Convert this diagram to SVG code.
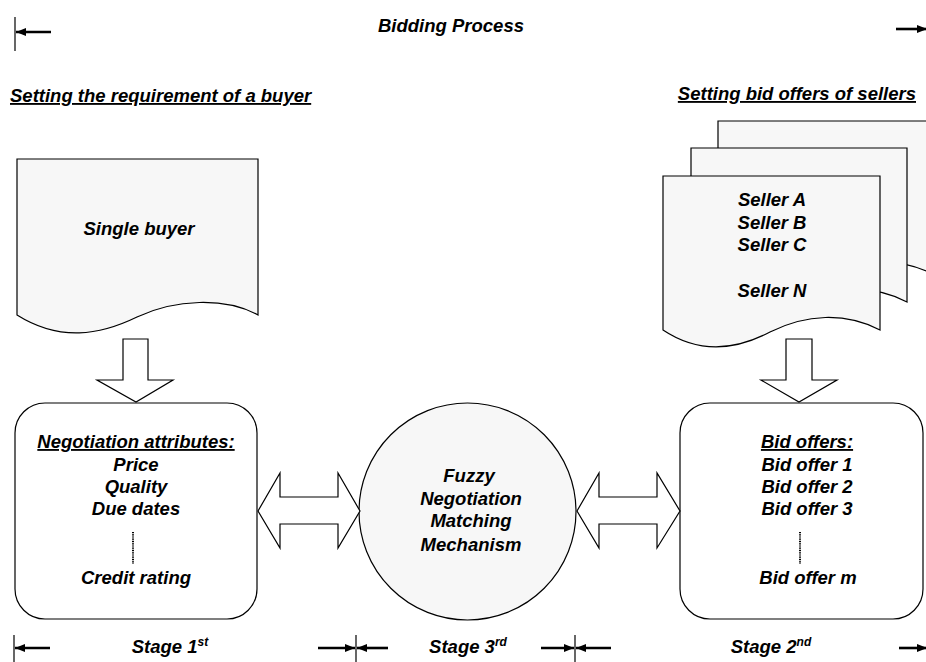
<svg xmlns="http://www.w3.org/2000/svg" width="926" height="662" viewBox="0 0 926 662">
<style>
text{font-family:"Liberation Sans",Arial,sans-serif;font-weight:bold;font-style:italic;font-size:18.5px;fill:#000}
.c{text-anchor:middle}
.u{text-decoration:underline}
.sup{font-size:12px}
.doc{fill:#f7f7f7;stroke:#000;stroke-width:1.2}
.box{fill:#fff;stroke:#000;stroke-width:1.2}
.blk{fill:#fff;stroke:#000;stroke-width:1.2;stroke-linejoin:miter}
.dim{stroke:#000;stroke-width:2.6;fill:none}
.tick{stroke:#000;stroke-width:1.2}
.dot{stroke:#000;stroke-width:2;stroke-dasharray:1 0.8}
</style>
<defs>
<marker id="ah" viewBox="0 0 10 8" refX="10" refY="4" markerWidth="10" markerHeight="8" markerUnits="userSpaceOnUse" orient="auto">
<path d="M0,0 L10,4 L0,8 Z" fill="#000"/>
</marker>
</defs>

<g id="title">
<text class="c" x="451" y="32">Bidding Process</text>
</g>
<g id="heading-buyer">
<text class="u" x="10" y="102">Setting the requirement of a buyer</text>
</g>
<g id="heading-sellers">
<text class="u" x="916" y="100" text-anchor="end">Setting bid offers of sellers</text>
</g>

<g id="single-buyer">
<path class="doc" d="M17,159 H258 V315 C225,297 175,299 137,317 C100,335 60,342 17,315 Z"/>
<text class="c" x="139" y="235">Single buyer</text>
</g>

<g id="sellers">
<path class="doc" d="M718,121 H935 V275 C900,257 861,259 825,277 C791,295 754,299 718,275 Z"/>
<path class="doc" d="M691,148 H907 V302 C872,284 833,286 798,304 C764,322 727,326 691,302 Z"/>
<path class="doc" d="M663,176 H880 V330 C845,312 806,314 770,332 C736,350 699,354 663,330 Z"/>
<text class="c" x="772" y="206">Seller A</text>
<text class="c" x="772" y="229">Seller B</text>
<text class="c" x="772" y="251">Seller C</text>
<text class="c" x="772" y="297">Seller N</text>
</g>

<g id="negotiation-attributes">
<rect class="box" x="15" y="403" width="242" height="216" rx="30" ry="30"/>
<text class="c u" x="136" y="448">Negotiation attributes:</text>
<text class="c" x="136" y="471">Price</text>
<text class="c" x="136" y="493">Quality</text>
<text class="c" x="136" y="515">Due dates</text>
<line class="dot" x1="133" y1="532" x2="133" y2="564"/>
<text class="c" x="136" y="584">Credit rating</text>
</g>

<g id="fuzzy-mechanism">
<circle class="doc" cx="467.5" cy="511.5" r="108.5"/>
<text class="c" x="469" y="482">Fuzzy</text>
<text class="c" x="471" y="505">Negotiation</text>
<text class="c" x="471" y="527">Matching</text>
<text class="c" x="471" y="551">Mechanism</text>
</g>

<g id="bid-offers">
<rect class="box" x="680" y="403" width="243" height="216" rx="30" ry="30"/>
<text class="c u" x="807" y="448">Bid offers:</text>
<text class="c" x="807" y="471">Bid offer 1</text>
<text class="c" x="807" y="493">Bid offer 2</text>
<text class="c" x="807" y="515">Bid offer 3</text>
<line class="dot" x1="800" y1="532" x2="800" y2="564"/>
<text class="c" x="808" y="584">Bid offer m</text>
</g>

<g id="stages">
<text class="c" x="170" y="653">Stage 1<tspan class="sup" dy="-7">st</tspan></text>
<text class="c" x="468" y="653">Stage 3<tspan class="sup" dy="-7">rd</tspan></text>
<text class="c" x="771" y="653">Stage 2<tspan class="sup" dy="-7">nd</tspan></text>
</g>

<g id="connectors">
<polygon class="blk" points="123,339 148,339 148,380 173,380 136,402 97,380 123,380"/>
<polygon class="blk" points="786,339 812,339 812,380 837,380 799,402 761,380 786,380"/>
<polygon class="blk" points="258,511 280,473 280,497 338,497 338,473 360,511 338,548 338,524 280,524 280,548"/>
<polygon class="blk" points="577,511 599,473 599,497 657,497 657,473 680,511 657,548 657,524 599,524 599,548"/>

<line class="tick" x1="15" y1="17" x2="15" y2="51"/>
<line class="dim" x1="51" y1="32" x2="16" y2="32" marker-end="url(#ah)"/>
<line class="dim" x1="896" y1="29" x2="927" y2="29" marker-end="url(#ah)"/>

<line class="tick" x1="14" y1="635" x2="14" y2="662"/>
<line class="dim" x1="50" y1="648" x2="15" y2="648" marker-end="url(#ah)"/>
<line class="dim" x1="318" y1="648" x2="355" y2="648" marker-end="url(#ah)"/>
<line class="tick" x1="356" y1="635" x2="356" y2="662"/>
<line class="dim" x1="388" y1="648" x2="357" y2="648" marker-end="url(#ah)"/>
<line class="dim" x1="541" y1="648" x2="574" y2="648" marker-end="url(#ah)"/>
<line class="tick" x1="575" y1="635" x2="575" y2="662"/>
<line class="dim" x1="611" y1="648" x2="576" y2="648" marker-end="url(#ah)"/>
<line class="dim" x1="899" y1="648" x2="927" y2="648" marker-end="url(#ah)"/>
</g>
</svg>
